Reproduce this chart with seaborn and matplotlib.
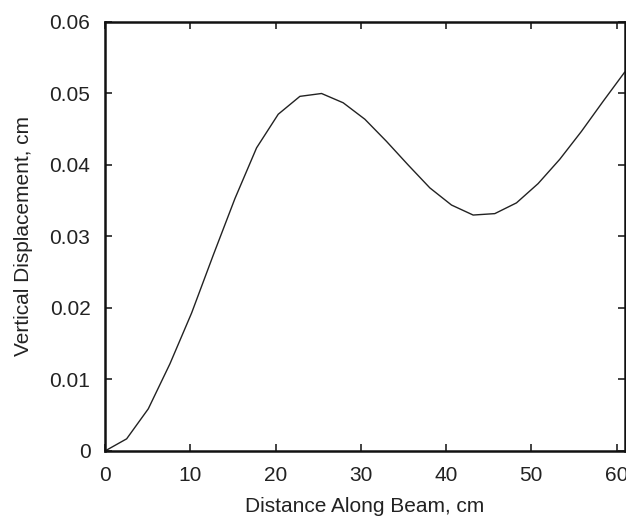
import numpy as np
import pandas as pd
import matplotlib
matplotlib.use("Agg")
import matplotlib.pyplot as plt
import seaborn as sns

# data
distance_cm = [0.00, 2.54, 5.08, 7.62, 10.16, 12.70, 15.24, 17.78, 20.32, 22.86,
               25.40, 27.94, 30.48, 33.02, 35.56, 38.10, 40.64, 43.18, 45.72,
               48.26, 50.80, 53.34, 55.88, 58.42, 60.96]
displacement_cm = [0.0, 0.0017, 0.0059, 0.0122, 0.0193, 0.0274, 0.0353, 0.0424,
                   0.0471, 0.0496, 0.0500, 0.0487, 0.0464, 0.0433, 0.0400,
                   0.0368, 0.0344, 0.0330, 0.0332, 0.0347, 0.0374, 0.0408,
                   0.0447, 0.0489, 0.0530]
x_ticks = [0, 10, 20, 30, 40, 50, 60]
y_ticks = [0, 0.01, 0.02, 0.03, 0.04, 0.05, 0.06]
y_tick_labels = ["0", "0.01", "0.02", "0.03", "0.04", "0.05", "0.06"]

df = pd.DataFrame({"x": distance_cm, "y": displacement_cm})

sns.set_theme(style="white")
plt.rcParams["font.family"] = ["Liberation Sans", "DejaVu Sans"]

fig = plt.figure(figsize=(6.26, 5.2), dpi=100)
ax = fig.add_axes([0.1677, 0.1327, 0.8303, 0.825])

sns.lineplot(data=df, x="x", y="y", ax=ax, color="#222222", linewidth=1.0)

ax.set_xlim(0, 60.96)
ax.set_ylim(0, 0.06)
ax.set_xticks(x_ticks)
ax.set_yticks(y_ticks)
ax.set_yticklabels(y_tick_labels)

ax.tick_params(direction="in", length=5, width=1.2, color="#222222",
               top=True, right=True, bottom=True, left=True,
               labelsize=15, labelcolor="#222222", pad=10.5)
for s in ax.spines.values():
    s.set_visible(True)
    s.set_linewidth(1.8)
    s.set_color("#111111")

ax.set_xlabel("Distance Along Beam, cm", fontsize=15, color="#222222", labelpad=9)
ax.set_ylabel("Vertical Displacement, cm", fontsize=15, color="#222222", labelpad=12)

fig.savefig("out.png", dpi=100)
